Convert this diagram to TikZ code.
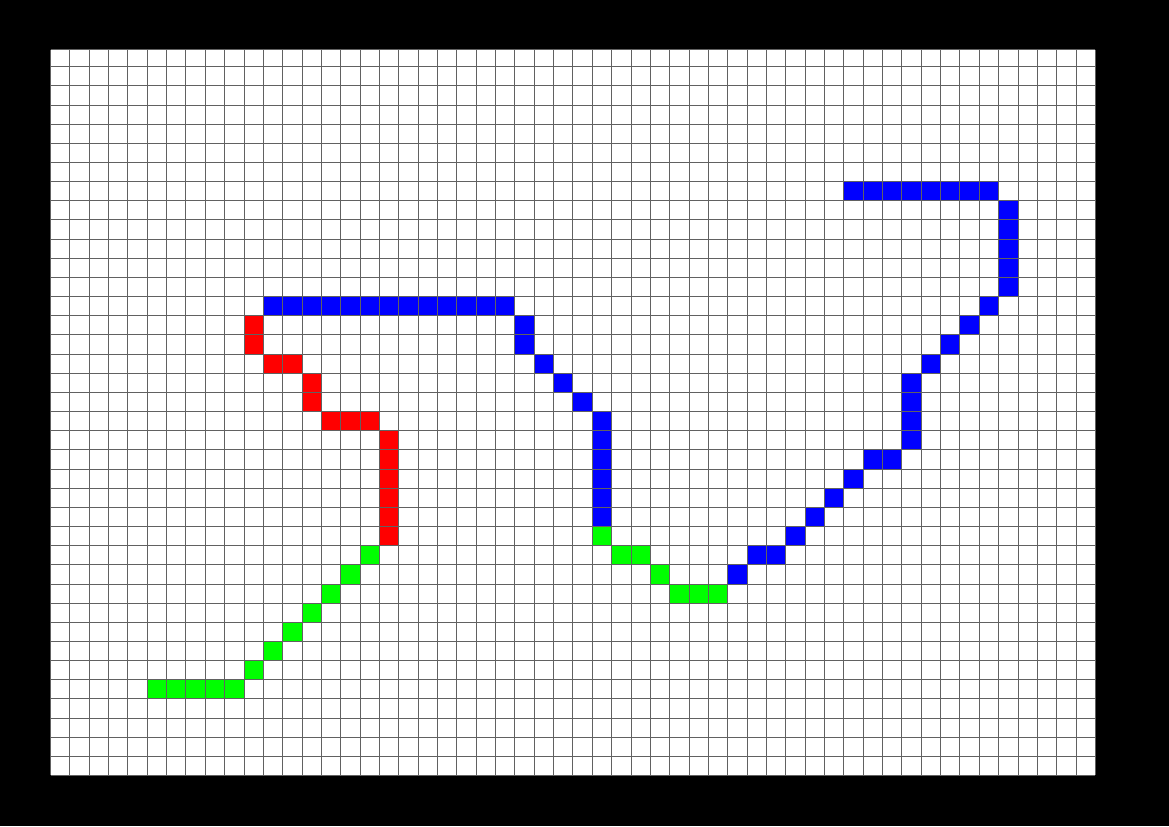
\documentclass[tikz,border=0pt]{standalone}
\begin{document}
\begin{tikzpicture}[x=0.5pt,y=-0.5pt,
  gridline/.style={draw=black!62, line width=0.5pt},
  bluecell/.style={fill={rgb,255:red,0;green,0;blue,255}},
  redcell/.style={fill={rgb,255:red,255;green,0;blue,0}},
  greencell/.style={fill={rgb,255:red,0;green,255;blue,0}}]
\fill[black] (0,0) rectangle (1169,826);
\useasboundingbox (0,0) rectangle (1169,826);
\fill[white] (50.5,49.7) rectangle (1095.4,775);
\newcommand\gcell[3]{\fill[#1] ({50.5+19.35*#2},{66.7+19.16*(#3-1)}) rectangle ({50.5+19.35*(#2+1)},{66.7+19.16*#3});}
% blue cells
\foreach \c/\r in {41/7,42/7,43/7,44/7,45/7,46/7,47/7,48/7,
  49/8,49/9,49/10,49/11,49/12,48/13,47/14,46/15,45/16,
  44/17,44/18,44/19,44/20,43/21,42/21,41/22,40/23,39/24,38/25,37/26,36/26,35/27,
  11/13,12/13,13/13,14/13,15/13,16/13,17/13,18/13,19/13,20/13,21/13,22/13,23/13,
  24/14,24/15,25/16,26/17,27/18,28/19,28/20,28/21,28/22,28/23,28/24}
  {\gcell{bluecell}{\c}{\r}}
% red cells
\foreach \c/\r in {10/14,10/15,11/16,12/16,13/17,13/18,14/19,15/19,16/19,
  17/20,17/21,17/22,17/23,17/24,17/25}
  {\gcell{redcell}{\c}{\r}}
% green cells
\foreach \c/\r in {16/26,15/27,14/28,13/29,12/30,11/31,10/32,5/33,6/33,7/33,8/33,9/33,
  28/25,29/26,30/26,31/27,32/28,33/28,34/28}
  {\gcell{greencell}{\c}{\r}}
% grid
\foreach \c in {0,...,54}
  \draw[gridline] ({50.5+19.35*\c},49.7) -- ({50.5+19.35*\c},775);
\foreach \k in {1,...,37}
  \draw[gridline] (50.5,{66.7+19.16*(\k-1)}) -- (1095.4,{66.7+19.16*(\k-1)});
\draw[gridline] (50.5,49.7) -- (1095.4,49.7);
\draw[gridline] (50.5,775) -- (1095.4,775);
\end{tikzpicture}
\end{document}
